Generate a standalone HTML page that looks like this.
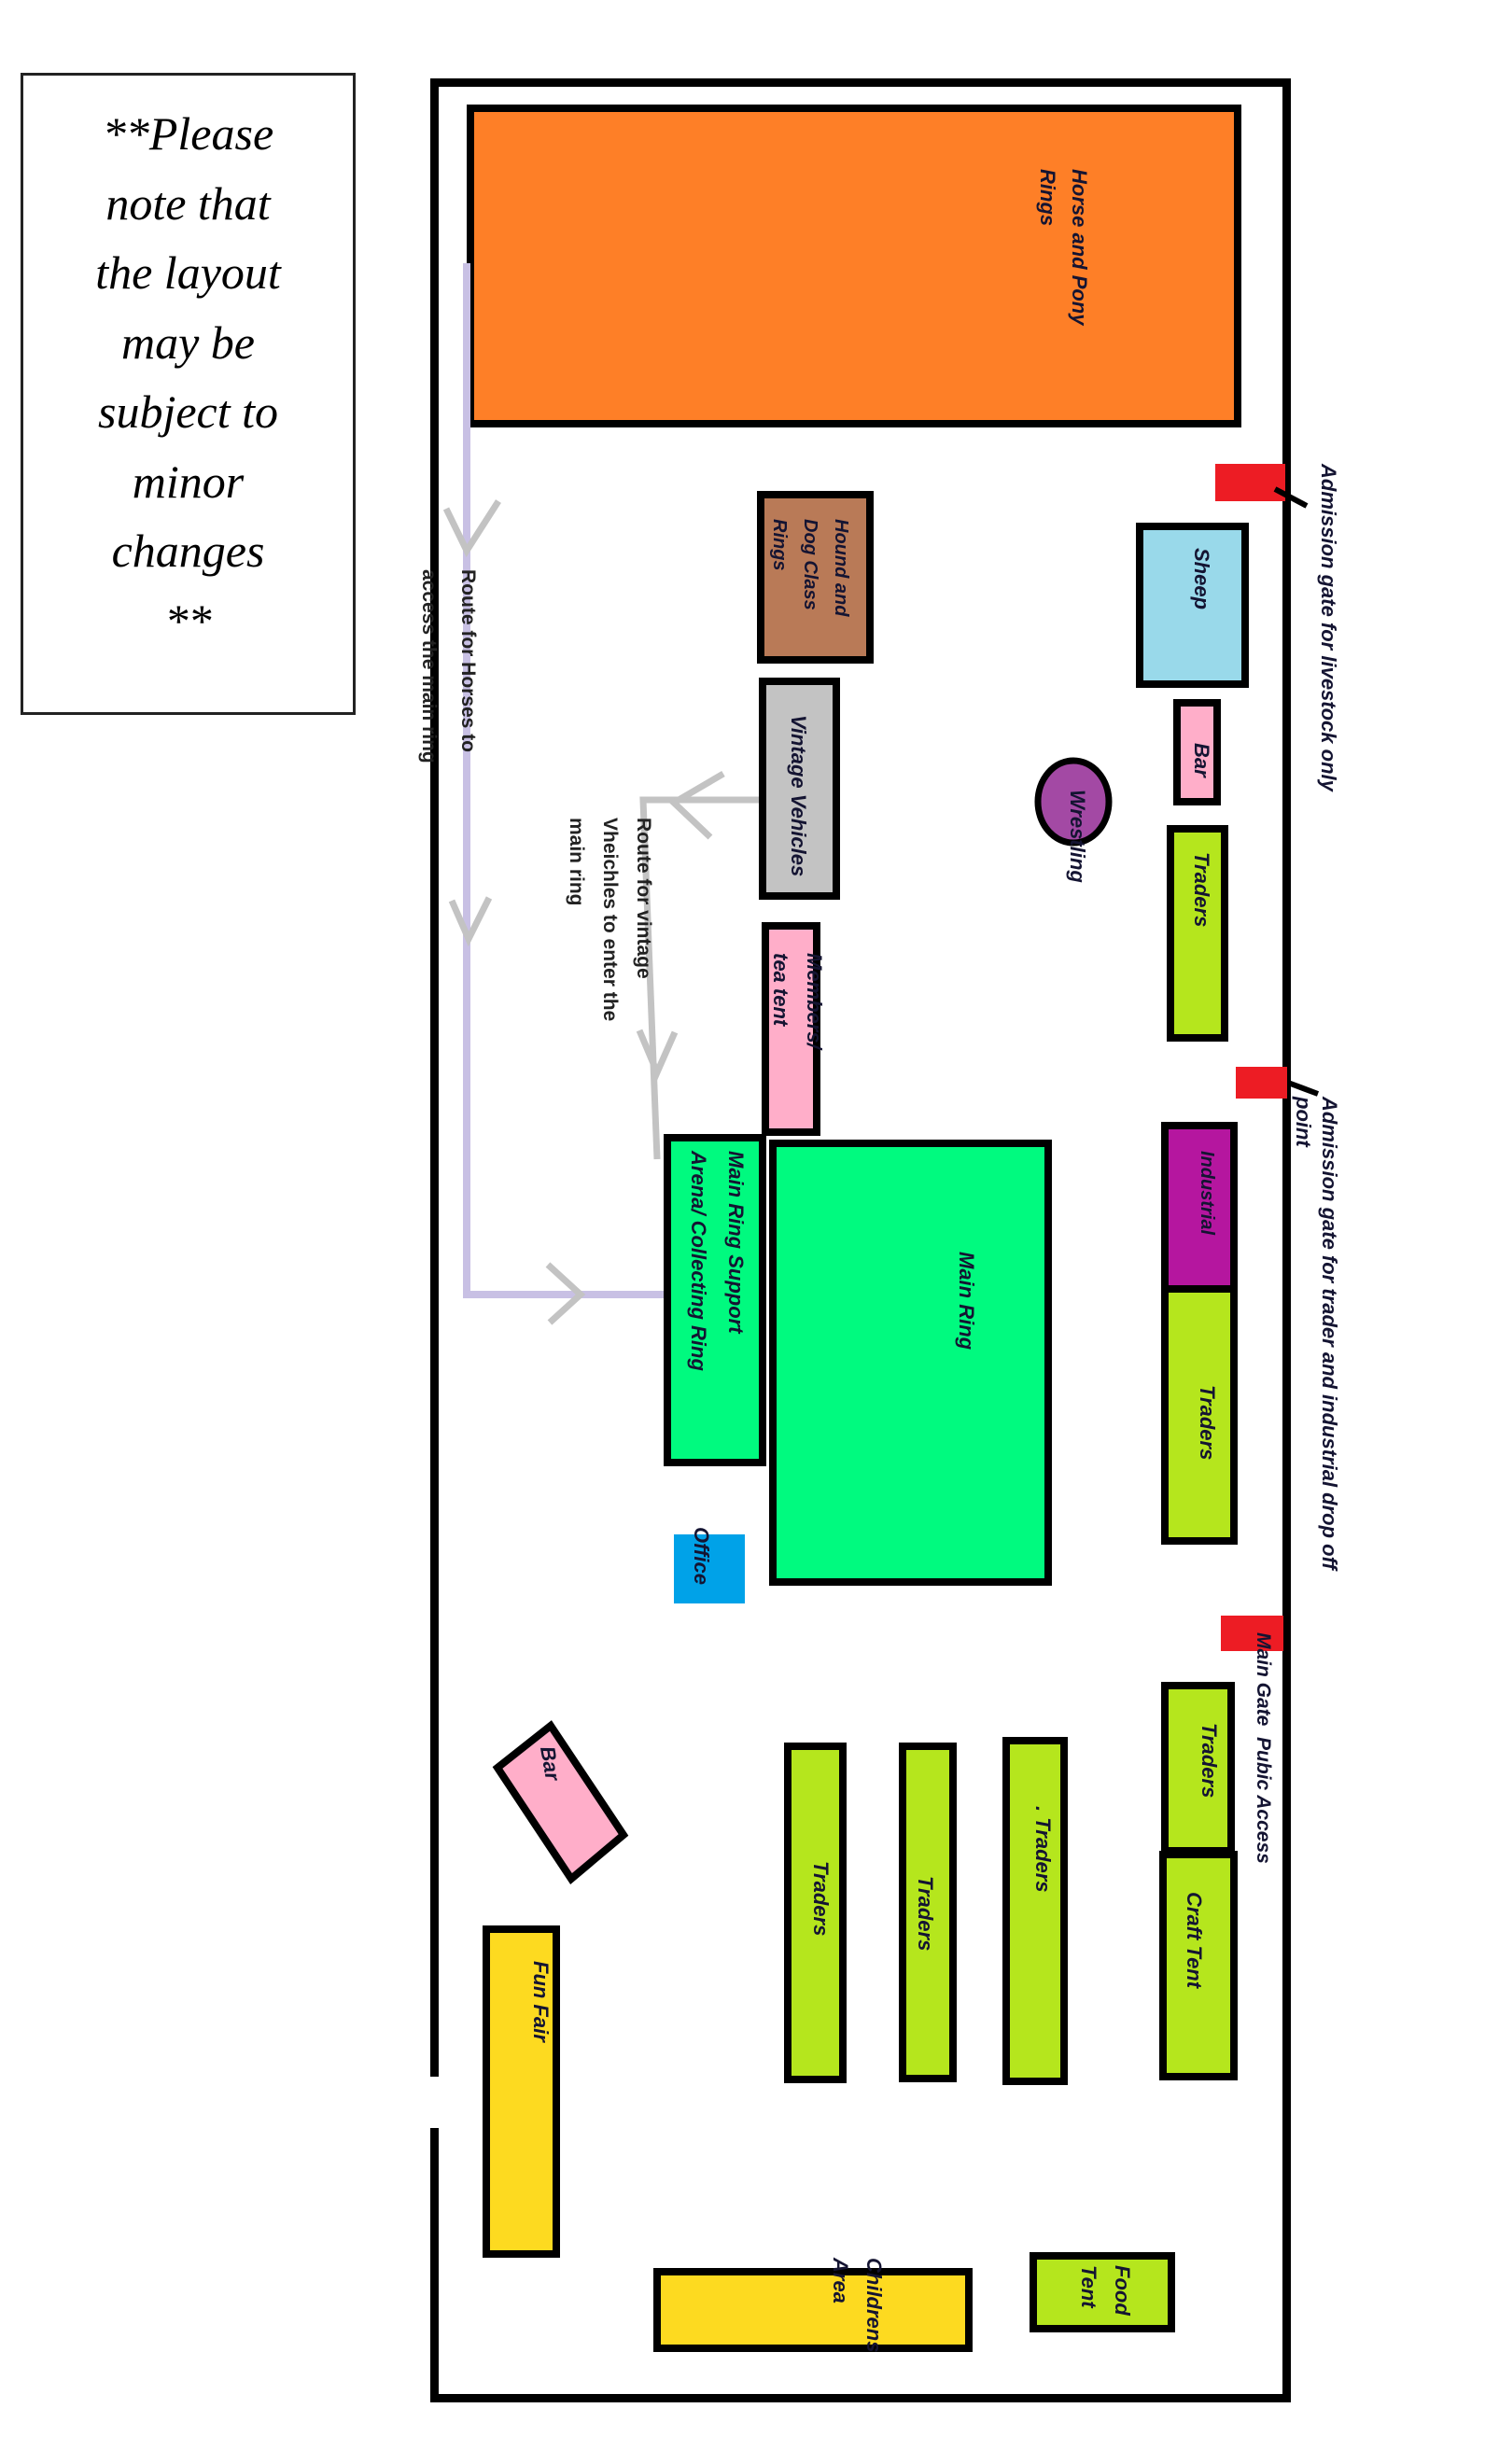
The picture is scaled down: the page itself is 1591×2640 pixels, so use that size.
<!DOCTYPE html>
<html><head><meta charset="utf-8"><style>
body{margin:0;width:1591px;height:2640px;background:#fff;position:relative;overflow:hidden;font-family:"Liberation Sans",sans-serif}
.b{position:absolute;box-sizing:border-box;border:8px solid #000}
.t{position:absolute;writing-mode:vertical-rl;font-weight:bold;font-style:italic;font-size:22px;color:#141432;white-space:nowrap;line-height:34px}
.r{position:absolute;writing-mode:vertical-rl;font-weight:bold;font-size:21px;color:#222;white-space:nowrap;line-height:36px}
</style></head><body>
<div style="position:absolute;left:22px;top:78px;width:359px;height:688px;box-sizing:border-box;border:3px solid #222;text-align:center;font-family:'Liberation Serif',serif;font-style:italic;font-size:50px;line-height:74.5px;padding-top:25px">**Please<br>note that<br>the layout<br>may be<br>subject to<br>minor<br>changes<br>**</div>

<div class="b" style="left:461px;top:84px;width:922px;height:2490px;border-width:9px"></div>
<div style="position:absolute;left:455px;top:2225px;width:20px;height:55px;background:#fff"></div>

<div class="b" style="left:500px;top:112px;width:830px;height:346px;background:#fe7f27"></div>
<div class="t" style="left:1105px;top:181px">Horse and Pony<br>Rings</div>

<div style="position:absolute;left:1302px;top:497px;width:75px;height:40px;background:#ed1c24"></div>
<svg style="position:absolute;left:0;top:0" width="1591" height="2640">
<line x1="1366" y1="524" x2="1400" y2="542" stroke="#000" stroke-width="6"/>
<line x1="1380" y1="1160" x2="1412" y2="1172" stroke="#000" stroke-width="6"/>
<polyline points="500,282 500,1387 714,1387" fill="none" stroke="#c8c0e4" stroke-width="8"/>
<polyline points="478,545 500,590 534,537" fill="none" stroke="#c3c3c3" stroke-width="7"/>
<polyline points="484,965 502,1006 524,962" fill="none" stroke="#c3c3c3" stroke-width="7"/>
<polyline points="587,1355 622,1387 589,1417" fill="none" stroke="#c3c3c3" stroke-width="7"/>
<polyline points="813,857 689,857 704,1242" fill="none" stroke="#c3c3c3" stroke-width="7"/>
<polyline points="775,829 722,860 761,897" fill="none" stroke="#c3c3c3" stroke-width="7"/>
<polyline points="685,1104 704,1149 723,1106" fill="none" stroke="#c3c3c3" stroke-width="7"/>
<ellipse cx="1150" cy="859" rx="38" ry="44" fill="#a349a4" stroke="#000" stroke-width="7"/>
<polygon points="590,1849 668,1966 612,2013 533,1894" fill="#ffaec9" stroke="#000" stroke-width="8"/>
</svg>
<div class="t" style="left:1406px;top:497px">Admission gate for livestock only</div>

<div class="b" style="left:1217px;top:560px;width:121px;height:177px;background:#99d9ea"></div>
<div class="t" style="left:1270px;top:587px">Sheep</div>
<div class="b" style="left:1257px;top:749px;width:51px;height:114px;background:#ffaec9"></div>
<div class="t" style="left:1270px;top:796px">Bar</div>
<div class="t" style="left:1137px;top:846px">Wrestling</div>
<div class="b" style="left:1250px;top:884px;width:66px;height:232px;background:#b5e61d"></div>
<div class="t" style="left:1270px;top:913px">Traders</div>

<div style="position:absolute;left:1324px;top:1143px;width:55px;height:34px;background:#ed1c24"></div>
<div class="t" style="left:1382px;top:1175px;line-height:28px">Admission gate for trader and industrial drop off<br>point</div>

<div class="b" style="left:1244px;top:1202px;width:82px;height:183px;background:#b5169f"></div>
<div class="t" style="left:1276px;top:1233px;font-size:20px">Industrial</div>
<div class="b" style="left:1244px;top:1377px;width:82px;height:278px;background:#b5e61d"></div>
<div class="t" style="left:1276px;top:1484px">Traders</div>

<div class="b" style="left:811px;top:526px;width:125px;height:185px;background:#b97a57"></div>
<div class="t" style="left:818px;top:556px;font-size:20px;line-height:33px">Hound and<br>Dog Class<br>Rings</div>
<div class="b" style="left:813px;top:726px;width:87px;height:238px;background:#c3c3c3"></div>
<div class="t" style="left:838px;top:766px">Vintage Vehicles</div>
<div class="b" style="left:816px;top:988px;width:63px;height:229px;background:#ffaec9"></div>
<div class="t" style="left:818px;top:1021px;line-height:36px">Members/<br>tea tent</div>

<div class="b" style="left:824px;top:1221px;width:303px;height:478px;background:#00fa7f"></div>
<div class="t" style="left:1018px;top:1341px">Main Ring</div>
<div class="b" style="left:711px;top:1215px;width:110px;height:356px;background:#00fa7f"></div>
<div class="t" style="left:728px;top:1233px;line-height:40px">Main Ring Support<br>Arena/ Collecting Ring</div>

<div style="position:absolute;left:722px;top:1644px;width:76px;height:74px;background:#00a2e8"></div>
<div class="t" style="left:734px;top:1636px">Office</div>

<div style="position:absolute;left:1308px;top:1731px;width:67px;height:38px;background:#ed1c24"></div>
<div class="t" style="left:1336px;top:1749px;font-size:21px">Main Gate&nbsp; Pubic Access</div>

<div class="b" style="left:1244px;top:1802px;width:79px;height:185px;background:#b5e61d"></div>
<div class="t" style="left:1278px;top:1846px">Traders</div>
<div class="b" style="left:1242px;top:1983px;width:84px;height:246px;background:#b5e61d"></div>
<div class="t" style="left:1262px;top:2027px">Craft Tent</div>

<div class="b" style="left:840px;top:1867px;width:67px;height:365px;background:#b5e61d"></div>
<div class="t" style="left:862px;top:1994px">Traders</div>
<div class="b" style="left:963px;top:1867px;width:62px;height:364px;background:#b5e61d"></div>
<div class="t" style="left:974px;top:2010px">Traders</div>
<div class="b" style="left:1074px;top:1861px;width:70px;height:373px;background:#b5e61d"></div>
<div class="t" style="left:1100px;top:1935px">. Traders</div>

<div class="t" style="left:572px;top:1871px;transform:rotate(-10deg)">Bar</div>

<div class="b" style="left:517px;top:2063px;width:83px;height:356px;background:#fdda20"></div>
<div class="t" style="left:562px;top:2101px">Fun Fair</div>
<div class="b" style="left:700px;top:2430px;width:342px;height:90px;background:#fdda20"></div>
<div class="t" style="left:882px;top:2419px;line-height:36px">Childrens<br>Area</div>
<div class="b" style="left:1103px;top:2413px;width:156px;height:86px;background:#b5e61d"></div>
<div class="t" style="left:1148px;top:2427px;line-height:36px">Food<br>Tent</div>

<div class="r" style="left:438px;top:610px;line-height:42px">Route for Horses to<br>access the main ring</div>
<div class="r" style="left:599px;top:876px;line-height:36px">Route for vintage<br>Vheichles to enter the<br>main ring</div>
</body></html>
